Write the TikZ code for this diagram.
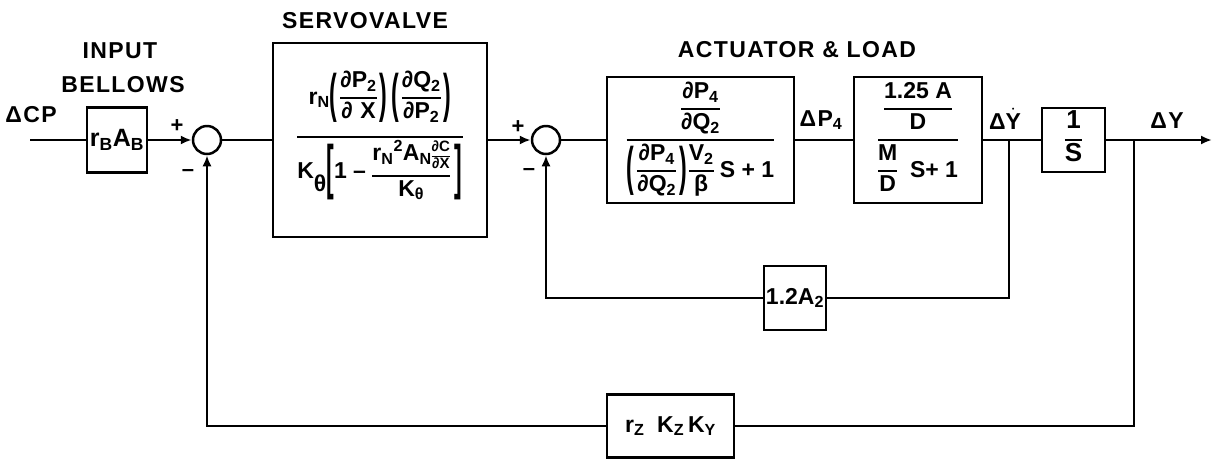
\documentclass[tikz,border=0pt]{standalone}
\usepackage{fontspec}
\setmainfont{Liberation Sans}
\newfontfamily\lblfont[LetterSpace=6]{Liberation Sans}
\usetikzlibrary{arrows.meta}
\setlength\arrayrulewidth{2pt}
\newlength\frgap
\setlength\frgap{2pt}
\newcommand\fr[2]{\begin{tabular}{@{}c@{}}#1\\\noalign{\vskip\frgap}\hline\noalign{\vskip\frgap}#2\end{tabular}}
\newcommand\sbs[1]{\textsubscript{#1}}
\newcommand\sps[1]{\textsuperscript{#1}}
\newcommand\bp[2][2.3]{$\vcenter{\hbox{\scalebox{1}[#1]{#2}}}$}
\newcommand\lp{\bp{(}\kern3pt}
\newcommand\rp{\kern3pt\bp{)}}
\begin{document}
\begin{tikzpicture}[x=1pt,y=-1pt,
  every node/.style={font=\bfseries\fontsize{23}{25}\selectfont},
  blk/.style={draw,line width=2.5pt,inner sep=0pt,align=center},
  sumj/.style={draw,circle,line width=2.5pt,minimum size=28pt,inner sep=0pt},
  lbl/.style={font=\lblfont\bfseries\fontsize{23}{27}\selectfont},
  sgn/.style={font=\bfseries\fontsize{22}{24}\selectfont,inner sep=0pt},
  wire/.style={line width=2.5pt},
  arr/.style={line width=2.5pt,-{Latex[length=11pt,width=9pt]}}]
\useasboundingbox (0,0) rectangle (1212,459);
% blocks
\node[blk,minimum width=60pt,minimum height=65pt,font=\bfseries\fontsize{25}{27}\selectfont] (inb) at (117,140) {r\sbs{B}A\sbs{B}};
\node[sumj] (s1) at (207,140) {};
\node[blk,minimum width=214pt,minimum height=194pt] (sv) at (380,140)
 {\fr{r\sbs{N}\lp\fr{∂P\sbs{2}}{∂\,\,X}\rp\kern4pt\lp\fr{∂Q\sbs{2}}{∂P\sbs{2}}\rp\rule[-30pt]{0pt}{60pt}}
     {K\raisebox{-0.6em}{θ}\bp[2.6]{[}1 -- \fr{r\sbs{N}\sps{2}A\sbs{N}{\fontsize{15}{15}\selectfont\setlength\arrayrulewidth{1.2pt}\setlength\frgap{0pt}\fr{∂C}{∂X}}}{K\sbs{θ}}\kern5pt\bp[2.6]{]}\rule[-32pt]{0pt}{66pt}}};
\node[sumj] (s2) at (546,140) {};
\node[blk,minimum width=187pt,minimum height=126pt] (act1) at (700.5,140)
 {\fr{\fr{∂P\sbs{4}}{∂Q\sbs{2}}}{\lp\fr{∂P\sbs{4}}{∂Q\sbs{2}}\rp\kern2pt\fr{V\sbs{2}}{β} S + 1}};
\node[blk,minimum width=128pt,minimum height=126pt] (act2) at (918,140)
 {\fr{\fr{1.25 A}{D}}{\fr{M}{D}\ \ S+ 1}};
\node[blk,minimum width=63pt,minimum height=64pt,font=\bfseries\fontsize{26}{27}\selectfont] (integ) at (1073.5,140) {\fr{1}{S}};
\node[blk,minimum width=62pt,minimum height=64pt] (g12) at (795,298) {1.2A\sbs{2}};
\node[blk,minimum width=127pt,minimum height=63pt] (fb) at (670.5,426) {r\sbs{Z}\ \ K\sbs{Z}\,K\sbs{Y}};
% coordinates
\coordinate (in) at (30,140);
\coordinate (out) at (1212,140);
\coordinate (b1) at (1009,140);
\coordinate (b2) at (1134,140);
% connectors
\draw[wire] (in) -- (inb);
\draw[arr] (inb) -- (s1);
\draw[wire] (s1) -- (sv);
\draw[arr] (sv) -- (s2);
\draw[wire] (s2) -- (act1);
\draw[wire] (act1) -- (act2);
\draw[wire] (act2) -- (integ);
\draw[arr] (integ) -- (out);
\draw[wire] (b1) |- (g12);
\draw[arr] (g12) -| (s2);
\draw[wire] (b2) |- (fb);
\draw[arr] (fb) -| (s1);
% labels
\node[lbl] (lcp) at (31,115) {ΔCP};
\node[lbl] (linput) at (120,51) {INPUT};
\node[lbl] (lbell) at (123,85) {BELLOWS};
\node[lbl] (lsv) at (365,21) {SERVOVALVE};
\node[lbl] (lact) at (797,50) {ACTUATOR \& LOAD};
\node[lbl] (lp4) at (821,120) {ΔP\sbs{4}};
\node[lbl] (lyd) at (1005,119) {Δ$\dot{\mbox{Y}}$};
\node[lbl] (ly) at (1167,121) {ΔY};
\node[sgn] (p1) at (177,126) {+};
\node[sgn] (m1) at (188,173) {--};
\node[sgn] (p2) at (518,127) {+};
\node[sgn] (m2) at (529,172) {--};
\end{tikzpicture}
\end{document}
